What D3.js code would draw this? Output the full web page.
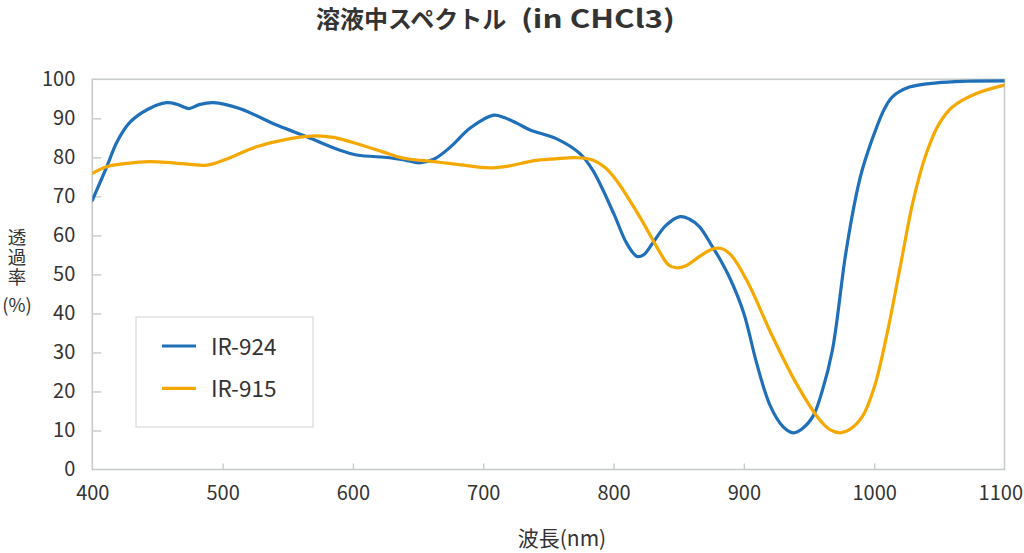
<!DOCTYPE html>
<html><head><meta charset="utf-8">
<script src="https://cdn.jsdelivr.net/npm/d3@7"></script>
<style>
html,body{margin:0;padding:0;background:#fff;}
text{font-family:"Noto Sans CJK JP","Noto Sans",sans-serif;fill:#333;}
</style></head>
<body><svg id="c" width="1024" height="553"></svg>
<script>
const titleJa = "溶液中スペクトル";
const titleEn = "(in CHCl3)";
const xLabel = "波長(nm)";
const yLabelTop = "透過率";
const yLabelUnit = "(%)";
const xTicks = [400,500,600,700,800,900,1000,1100];
const yTicks = [0,10,20,30,40,50,60,70,80,90,100];
const seriesNames = ["IR-924","IR-915"];
const seriesColors = ["#1f70b9","#f5a800"];

const nm924 = [400,411,419,429,442,457,465,474,482,493,513,542,565,590,603,628,640,651,662,675,690,708,716,726,736,756,774,784,800,810,818,823,830,840,851,858,866,876,882,890,900,910,920,930,938,945,953,960,968,978,986,991,1002,1008,1014,1027,1048,1070,1100];
const t924  = [69,77.5,84,89,92.2,94,93.6,92.5,93.5,94,92.5,88.2,85.2,81.8,80.6,79.9,79.3,78.6,79.5,82.7,87.5,90.8,90.2,88.7,87,84.8,81,76.7,65.7,58,54.6,55,58,62.5,64.8,64.2,62.2,57,53.7,48.5,40,27,16.5,11,9.4,10.5,13.6,20,30.7,55,70,77,87.8,92.5,95.5,98,99.1,99.5,99.6];

const nm915 = [400,411,425,444,462,488,501,526,552,572,585,598,623,636,644,662,680,705,720,738,755,772,784,793,802,820,836,842,848,856,866,875,882,890,902,922,940,958,966,974,981,991,1000,1010,1020,1030,1040,1050,1060,1078,1100];
const t915  = [75.9,77.6,78.4,78.9,78.6,78,79.3,82.7,84.8,85.5,85.1,84,81.4,80,79.5,78.9,78.2,77.3,77.8,79.1,79.6,79.9,79.3,77.5,74.2,64.8,55.4,52.5,51.7,52.3,54.6,56.4,56.7,55,48.6,34.1,22.2,12.8,10.2,9.4,10.2,13.6,21,35,52,69,81,88.7,92.9,96.3,98.5];

const svg = d3.select("#c");
const L=92.3, R=1004.5, T=79.3, B=469.5;
const x = d3.scaleLinear().domain([400,1100]).range([L,R]);
const y = d3.scaleLinear().domain([0,100]).range([B,T]);

// title
svg.append("text").attr("x",316).attr("y",28).attr("font-size",24).attr("font-weight","bold").text(titleJa);
svg.append("text").attr("x",521).attr("y",28).attr("font-size",25).attr("font-weight","bold")
  .attr("textLength",154).attr("lengthAdjust","spacingAndGlyphs").text(titleEn);

// frame
svg.append("rect").attr("x",L).attr("y",T).attr("width",R-L).attr("height",B-T)
  .attr("fill","none").attr("stroke","#c8cccc").attr("stroke-width",1.6);

// y axis ticks
const yAxis = d3.axisRight(y).tickValues(yTicks.filter(v=>v>0&&v<100)).tickSize(9).tickFormat("");
const gy = svg.append("g").attr("transform",`translate(${L},0)`).call(yAxis);
gy.select(".domain").remove();
gy.selectAll("line").attr("stroke","#c8cccc").attr("stroke-width",1.4);
const gyl = svg.append("g").attr("transform",`translate(${L},0)`)
  .call(d3.axisLeft(y).tickValues(yTicks).tickSize(0).tickPadding(17).tickFormat(d3.format("d")));
gyl.select(".domain").remove();
gyl.selectAll("text").attr("font-size",20).style("font-family",'"Noto Sans CJK JP",sans-serif').attr("fill","#333");

// x axis ticks
const xAxis = d3.axisTop(x).tickValues(xTicks.filter(v=>v>400&&v<1100)).tickSize(6).tickFormat("");
const gx = svg.append("g").attr("transform",`translate(0,${B})`).call(xAxis);
gx.select(".domain").remove();
gx.selectAll("line").attr("stroke","#c8cccc").attr("stroke-width",1.4);
const gxl = svg.append("g").attr("transform",`translate(0,${B})`)
  .call(d3.axisBottom(x).tickValues(xTicks).tickSize(0).tickPadding(16).tickFormat(d3.format("d")));
gxl.select(".domain").remove();
gxl.selectAll("text").attr("font-size",20).style("font-family",'"Noto Sans CJK JP",sans-serif').attr("fill","#333");
gxl.selectAll(".tick").filter(d=>d===1100).select("text").attr("text-anchor","end").attr("x",18);

// axis labels
svg.append("text").attr("x",562).attr("y",546).attr("text-anchor","middle").attr("font-size",21).text(xLabel);
svg.append("text").attr("x",17).attr("y",228).attr("font-size",18.5)
  .style("writing-mode","vertical-rl").style("letter-spacing","1.5px").text(yLabelTop);
svg.append("text").attr("x",17).attr("y",312).attr("text-anchor","middle").attr("font-size",18.5).text(yLabelUnit);

// lines
const line = d3.line().curve(d3.curveCatmullRom.alpha(0.5));
const data = [[nm924,t924],[nm915,t915]];
svg.append("clipPath").attr("id","pc").append("rect").attr("x",L).attr("y",T-3).attr("width",R-L).attr("height",B-T+3);
data.forEach((d,i)=>{
  const pts = d[0].map((v,j)=>[x(v),y(d[1][j])]);
  svg.append("path").attr("d",line(pts)).attr("fill","none")
    .attr("stroke",seriesColors[i]).attr("stroke-width",3.2).attr("stroke-linecap","round")
    .attr("clip-path","url(#pc)");
});

// legend
const lg = svg.append("g");
lg.append("rect").attr("x",136).attr("y",317).attr("width",177).attr("height",110)
  .attr("fill","#fff").attr("stroke","#dde0e0").attr("stroke-width",1.4);
seriesNames.forEach((n,i)=>{
  const yy = 346 + i*42.3;
  lg.append("line").attr("x1",162).attr("x2",196).attr("y1",yy).attr("y2",yy)
    .attr("stroke",seriesColors[i]).attr("stroke-width",3.2);
  lg.append("text").attr("x",211).attr("y",yy+9).attr("font-size",22.5).text(n);
});
</script></body></html>
